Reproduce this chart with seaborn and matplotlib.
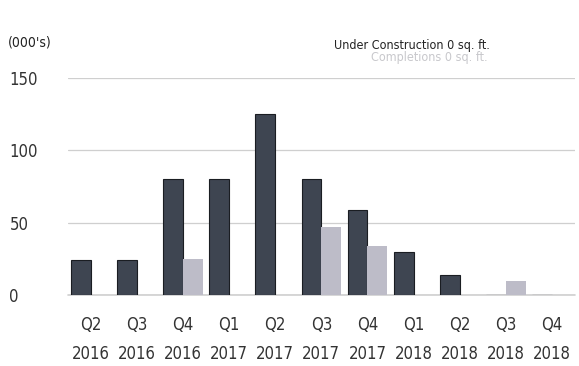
import matplotlib
matplotlib.use("Agg")
import matplotlib.pyplot as plt
import seaborn as sns
import pandas as pd

quarters = ["Q2\n2016", "Q3\n2016", "Q4\n2016", "Q1\n2017", "Q2\n2017", "Q3\n2017",
            "Q4\n2017", "Q1\n2018", "Q2\n2018", "Q3\n2018", "Q4\n2018"]
under_construction = [24, 24, 80, 80, 125, 80, 59, 30, 14, 0, 0]
completions = [0, 0, 25, 0, 0, 47, 34, 0, 0, 10, 0]
series_names = ["Under Construction", "Completions"]
y_ticks = [0, 50, 100, 150]

df = pd.DataFrame({
    "quarter": quarters * 2,
    "value": under_construction + completions,
    "series": [series_names[0]] * len(quarters) + [series_names[1]] * len(quarters),
})

sns.set_theme(style="white")
plt.rcParams["font.family"] = ["DejaVu Sans"]
plt.rcParams["font.stretch"] = "condensed"

fig = plt.figure(figsize=(5.79, 3.66), dpi=100)
ax = fig.add_axes([0.117, 0.194, 0.876, 0.593])

dark = "#3e4551"
light = "#bdbcc8"
sns.barplot(data=df, x="quarter", y="value", hue="series", order=quarters,
            hue_order=series_names, palette=[dark, light], width=0.86,
            ax=ax, legend=False, saturation=1)
for i, p in enumerate(ax.patches):
    if i < len(quarters):
        p.set_edgecolor("#1a1d22")
        p.set_linewidth(0.8)
    else:
        p.set_edgecolor("none")

ax.set_ylim(0, 150)
ax.set_xlim(-0.5, len(quarters) - 0.5)
ax.set_yticks(y_ticks)
ax.set_yticklabels([str(t) for t in y_ticks], ha="left")
ax.tick_params(axis="y", pad=42, labelsize=12, colors="#333333", length=0)
ax.tick_params(axis="x", labelsize=12, colors="#333333", length=0, pad=15)
for lbl in ax.get_xticklabels():
    lbl.set_linespacing(1.8)
ax.set_xlabel("")
ax.set_ylabel("")
ax.grid(axis="y", color="#cfcfcf", linewidth=0.9)
ax.axhline(0, color="#cfcfcf", linewidth=1.2, clip_on=False, zorder=0.5)
ax.set_axisbelow(True)
for s in ax.spines.values():
    s.set_visible(False)

fig.text(0.014, 0.885, "(000's)", fontsize=10, color="#222222", va="center")
fig.text(0.846, 0.877, "Under Construction 0 sq. ft.", fontsize=9, color="#222222",
         ha="right", va="center")
fig.text(0.842, 0.842, "Completions 0 sq. ft.", fontsize=9, color="#c8c8cc",
         ha="right", va="center")

fig.savefig("out.png", dpi=100)
